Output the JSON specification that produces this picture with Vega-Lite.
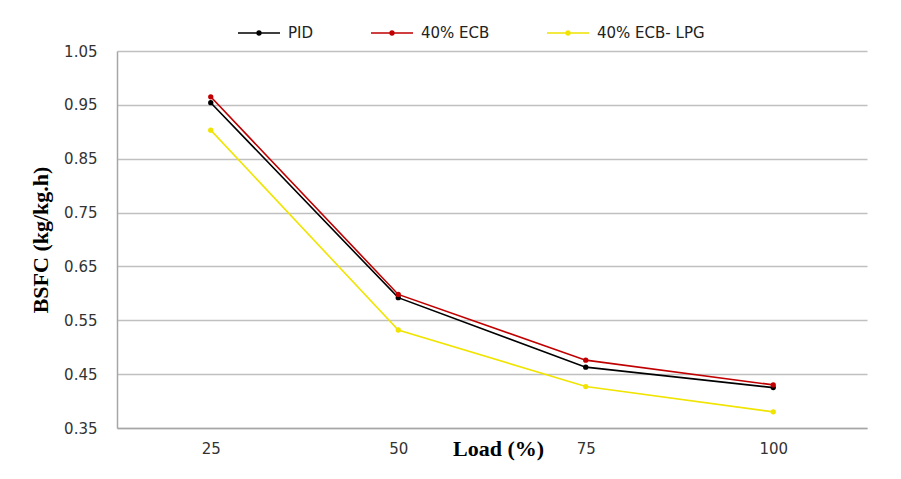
{
  "$schema": "https://vega.github.io/schema/vega-lite/v6.json",
  "width": 750,
  "height": 377,
  "autosize": "none",
  "padding": {"left": 117, "top": 51, "right": 34, "bottom": 51},
  "background": "white",
  "config": {"view": {"stroke": null}},
  "data": {
    "values": [
      {"load": "25", "series": "PID", "bsfc": 0.954},
      {"load": "50", "series": "PID", "bsfc": 0.592},
      {"load": "75", "series": "PID", "bsfc": 0.463},
      {"load": "100", "series": "PID", "bsfc": 0.425},
      {"load": "25", "series": "40% ECB", "bsfc": 0.965},
      {"load": "50", "series": "40% ECB", "bsfc": 0.598},
      {"load": "75", "series": "40% ECB", "bsfc": 0.476},
      {"load": "100", "series": "40% ECB", "bsfc": 0.430},
      {"load": "25", "series": "40% ECB- LPG", "bsfc": 0.903},
      {"load": "50", "series": "40% ECB- LPG", "bsfc": 0.532},
      {"load": "75", "series": "40% ECB- LPG", "bsfc": 0.427},
      {"load": "100", "series": "40% ECB- LPG", "bsfc": 0.380}
    ]
  },
  "encoding": {
    "x": {
      "field": "load",
      "type": "ordinal",
      "sort": ["25", "50", "75", "100"],
      "scale": {"padding": 0.5},
      "axis": {
        "title": "Load (%)",
        "titleFont": "Liberation Serif",
        "titleFontSize": 22,
        "titleFontWeight": "bold",
        "titleColor": "#000000",
        "titleX": 381,
        "titleY": 20,
        "titleBaseline": "middle",
        "titleAlign": "center",
        "labelAngle": 0,
        "labelFont": "DejaVu Sans",
        "labelFontSize": 15,
        "labelColor": "#333333",
        "labelPadding": 13,
        "ticks": false,
        "grid": false,
        "domainColor": "#a6a6a6",
        "domainWidth": 1.5
      }
    },
    "y": {
      "field": "bsfc",
      "type": "quantitative",
      "scale": {"domain": [0.35, 1.05], "nice": false, "zero": false},
      "axis": {
        "title": "BSFC (kg/kg.h)",
        "titleFont": "Liberation Serif",
        "titleFontSize": 22,
        "titleFontWeight": "bold",
        "titleColor": "#000000",
        "titleAngle": -90,
        "titleX": -77,
        "titleY": 188.5,
        "titleBaseline": "middle",
        "titleAlign": "center",
        "values": [0.35, 0.45, 0.55, 0.65, 0.75, 0.85, 0.95, 1.05],
        "format": ".2f",
        "labelFont": "DejaVu Sans",
        "labelFontSize": 15,
        "labelColor": "#333333",
        "labelPadding": 20,
        "ticks": false,
        "grid": true,
        "gridColor": "#c0c0c0",
        "gridWidth": 1.5,
        "domainColor": "#a6a6a6",
        "domainWidth": 1.5
      }
    },
    "color": {
      "field": "series",
      "type": "nominal",
      "scale": {
        "domain": ["PID", "40% ECB", "40% ECB- LPG"],
        "range": ["#000000", "#c00000", "#f0e400"]
      },
      "legend": {
        "orient": "none",
        "legendX": 120,
        "legendY": -40,
        "direction": "horizontal",
        "title": null,
        "symbolType": "M-1,0H1M-0.09,0a0.09,0.09 0 1,0 0.18,0a0.09,0.09 0 1,0 -0.18,0",
        "symbolSize": 1764,
        "symbolStrokeWidth": 1.5,
        "labelFont": "DejaVu Sans",
        "labelFontSize": 15,
        "labelColor": "#222222",
        "labelOffset": 7,
        "columnPadding": 54,
        "encode": {
          "symbols": {
            "update": {
              "fill": {"scale": "color", "field": "value"},
              "stroke": {"scale": "color", "field": "value"},
              "opacity": {"value": 1}
            }
          }
        }
      }
    }
  },
  "layer": [
    {"mark": {"type": "line", "strokeWidth": 1.6}},
    {"mark": {"type": "point", "filled": true, "size": 28, "opacity": 1}}
  ]
}
